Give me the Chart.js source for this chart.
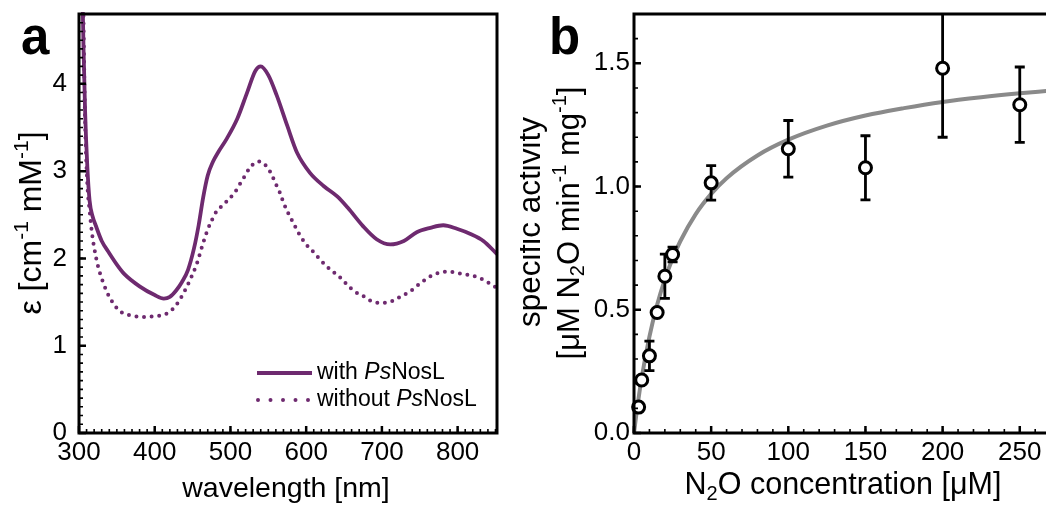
<!DOCTYPE html>
<html>
<head>
<meta charset="utf-8">
<script src="https://cdn.jsdelivr.net/npm/chart.js@4.4.1/dist/chart.umd.min.js"></script>
<style>
  body { margin: 0; background: #fff; width: 1046px; height: 511px; overflow: hidden; position: relative; }
  #chartA { position: absolute; left: 0; top: 0; }
  #chartB { position: absolute; left: 520px; top: 0; }
</style>
</head>
<body>
<canvas id="chartA" width="520" height="511"></canvas>
<canvas id="chartB" width="526" height="511"></canvas>
<script>
// ===== Data: panel a (spectra) =====
const wlWith = [304, 306, 308, 311, 314, 318, 322, 330, 340, 350, 360, 380, 400, 412, 420, 428, 436, 444, 452, 458,
  464, 470, 477, 484, 495, 509, 522, 533, 540, 550, 561, 575, 588, 605, 623, 641, 655, 675, 693, 711,
  729, 746, 764, 781, 799, 817, 834, 852];
const epsWith = [5.3, 4.4, 3.7, 3.05, 2.66, 2.48, 2.38, 2.2, 2.06, 1.93, 1.82, 1.68, 1.58, 1.54, 1.56, 1.63, 1.73, 1.87, 2.12, 2.38,
  2.7, 2.95, 3.11, 3.22, 3.37, 3.6, 3.9, 4.15, 4.2, 4.1, 3.87, 3.52, 3.21, 2.98, 2.83, 2.71, 2.58, 2.37, 2.22, 2.16,
  2.2, 2.3, 2.35, 2.38, 2.34, 2.28, 2.2, 2.05];

const wlWithout = [305, 308, 311, 314, 317, 323, 332, 342, 355, 370, 385, 401, 414, 425, 436, 447, 456, 463, 470, 475,
  481, 490, 498, 506, 513, 518, 525, 533, 538, 545, 553, 559, 565, 570, 575, 581, 587, 593, 601, 610,
  618, 627, 636, 645, 654, 664, 675, 686, 700, 713, 726, 737, 747, 763, 775, 788, 802, 815, 828, 839, 852];
const epsWithout = [5.3, 3.6, 2.85, 2.55, 2.3, 1.99, 1.72, 1.53, 1.39, 1.345, 1.33, 1.34, 1.36, 1.43, 1.57, 1.76, 1.95, 2.15, 2.33, 2.43,
  2.53, 2.61, 2.68, 2.76, 2.86, 2.93, 3.03, 3.1, 3.11, 3.08, 2.985, 2.87, 2.76, 2.64, 2.54, 2.44, 2.34, 2.245, 2.15, 2.07,
  1.99, 1.91, 1.845, 1.78, 1.7, 1.62, 1.57, 1.51, 1.49, 1.51, 1.57, 1.62, 1.69, 1.79, 1.835, 1.85, 1.83, 1.81, 1.78, 1.73, 1.66];

const xTicksA = [300, 400, 500, 600, 700, 800];
const yTicksA = [0, 1, 2, 3, 4];

// ===== Data: panel b (activity) =====
const n2oConc = [3, 5, 10, 15, 20, 25, 50, 100, 150, 200, 250];
const activity = [0.105, 0.215, 0.313, 0.489, 0.636, 0.724, 1.015, 1.153, 1.076, 1.48, 1.332];
const activityErr = [0, 0.012, 0.06, 0.008, 0.09, 0.03, 0.07, 0.115, 0.13, 0.28, 0.153];

const fitConc = [0, 2, 5, 10, 15, 20, 25, 30, 40, 50, 60, 80, 100, 125, 150, 175, 200, 225, 250, 268];
const fitActivity = [0, 0.098, 0.224, 0.391, 0.52, 0.623, 0.708, 0.778, 0.888, 0.97, 1.034, 1.126, 1.19, 1.247, 1.288, 1.318, 1.343, 1.362, 1.378, 1.388];

const xTicksB = [0, 50, 100, 150, 200, 250];
const yTicksB = [0, 0.5, 1, 1.5];

// ===== Styles =====
const FONT = '"Liberation Sans", Arial, sans-serif';
const PURPLE = '#6e2a6f';
Chart.defaults.font.family = FONT;
Chart.defaults.color = '#000';

function pairs(xs, ys) {
  return xs.map((x, i) => ({ x, y: ys[i] }));
}

// draws text runs with sup / sub / italic parts
function richText(ctx, parts, x, y, size, opts = {}) {
  ctx.save();
  ctx.translate(x, y);
  if (opts.rotate) ctx.rotate(-Math.PI / 2);
  ctx.textBaseline = 'middle';
  ctx.fillStyle = '#000';
  const fontOf = p => `${p.i ? 'italic ' : ''}${p.b ? 'bold ' : ''}${p.sup || p.sub ? Math.round(size * 0.65) : size}px ${FONT}`;
  let w = 0;
  parts.forEach(p => { ctx.font = fontOf(p); w += ctx.measureText(p.t).width; });
  let cx = opts.left ? 0 : -w / 2;
  parts.forEach(p => {
    ctx.font = fontOf(p);
    const dy = p.sup ? -size * 0.32 : p.sub ? size * 0.28 : 0;
    ctx.fillText(p.t, cx, dy);
    cx += ctx.measureText(p.t).width;
  });
  ctx.restore();
}

// ===== Frame + inward ticks =====
const framePlugin = {
  id: 'frame',
  afterDraw(chart, args, o) {
    const { ctx, chartArea: a, scales } = chart;
    const sx = scales.x, sy = scales.y;
    ctx.save();
    ctx.strokeStyle = '#000';
    ctx.lineCap = 'butt';

    ctx.lineWidth = 1.6;
    ctx.beginPath();
    for (let i = Math.ceil(sx.min / o.minorX); i * o.minorX <= sx.max + 1e-9; i++) {
      const px = sx.getPixelForValue(i * o.minorX);
      ctx.moveTo(px, a.bottom); ctx.lineTo(px, a.bottom - 4);
    }
    for (let i = Math.ceil(sy.min / o.minorY); i * o.minorY <= sy.max + 1e-9; i++) {
      const py = sy.getPixelForValue(i * o.minorY);
      ctx.moveTo(a.left, py); ctx.lineTo(a.left + 4, py);
    }
    ctx.stroke();

    ctx.lineWidth = 2.5;
    ctx.beginPath();
    sx.ticks.forEach(t => {
      const px = sx.getPixelForValue(t.value);
      ctx.moveTo(px, a.bottom); ctx.lineTo(px, a.bottom - 7);
    });
    sy.ticks.forEach(t => {
      const py = sy.getPixelForValue(t.value);
      ctx.moveTo(a.left, py); ctx.lineTo(a.left + 7, py);
    });
    ctx.stroke();

    ctx.lineWidth = 3;
    ctx.beginPath();
    if (o.right) {
      ctx.rect(a.left, a.top, a.right - a.left, a.bottom - a.top);
    } else {
      ctx.moveTo(a.right + 2, a.top); ctx.lineTo(a.left, a.top);
      ctx.lineTo(a.left, a.bottom); ctx.lineTo(a.right + 2, a.bottom);
    }
    ctx.stroke();
    ctx.restore();

    (o.texts || []).forEach(fn => fn(ctx));
  }
};

function axisScale(min, max, tickList, size, isX, pad, fmt) {
  return {
    type: 'linear', min, max,
    grid: { display: false, drawTicks: false },
    border: { display: false },
    afterBuildTicks: s => { s.ticks = tickList.map(v => ({ value: v })); },
    afterFit: s => {
      if (isX) s.height = size; else s.width = size;
      s.paddingLeft = 0; s.paddingRight = 0; s.paddingTop = 0; s.paddingBottom = 0;
    },
    ticks: { font: { size: 26 }, color: '#000', padding: pad, callback: fmt || (v => String(v)) }
  };
}

// ===== Panel a =====
new Chart(document.getElementById('chartA'), {
  type: 'scatter',
  data: {
    datasets: [
      { data: pairs(wlWith, epsWith), showLine: true, borderColor: PURPLE, borderWidth: 3.8,
        pointRadius: 0, cubicInterpolationMode: 'monotone', clip: 2 },
      { data: pairs(wlWithout, epsWithout), showLine: true, borderColor: PURPLE, borderWidth: 4,
        borderDash: [0, 7.6], borderCapStyle: 'round', pointRadius: 0, cubicInterpolationMode: 'monotone', clip: 2 }
    ]
  },
  options: {
    responsive: false, animation: false,
    layout: { autoPadding: false, padding: { top: 14, right: 23, left: 0, bottom: 0 } },
    scales: {
      x: axisScale(300, 852, xTicksA, 78, true, 4),
      y: axisScale(0, 4.8, yTicksA, 79, false, 12)
    },
    plugins: {
      legend: { display: false }, tooltip: { enabled: false },
      frame: {
        minorX: 10, minorY: 0.1, right: true,
        texts: [
          ctx => richText(ctx, [{ t: 'a', b: true }], 21, 40, 51, { left: true }),
          ctx => richText(ctx, [{ t: 'wavelength [nm]' }], 286, 489, 28.5),
          ctx => richText(ctx, [{ t: 'ε [cm' }, { t: '-1', sup: true }, { t: ' mM' }, { t: '-1', sup: true }, { t: ']' }], 32, 223, 32, { rotate: true }),
          ctx => {
            ctx.save();
            ctx.strokeStyle = PURPLE;
            ctx.lineWidth = 4;
            ctx.beginPath(); ctx.moveTo(257, 373); ctx.lineTo(312, 373); ctx.stroke();
            ctx.setLineDash([0, 12.5]); ctx.lineCap = 'round';
            ctx.beginPath(); ctx.moveTo(258, 400); ctx.lineTo(310, 400); ctx.stroke();
            ctx.restore();
            richText(ctx, [{ t: 'with ' }, { t: 'Ps', i: true }, { t: 'NosL' }], 317, 373, 23, { left: true });
            richText(ctx, [{ t: 'without ' }, { t: 'Ps', i: true }, { t: 'NosL' }], 317, 400, 23, { left: true });
          }
        ]
      }
    }
  },
  plugins: [framePlugin]
});

// ===== Panel b =====
const errorBarPlugin = {
  id: 'errbars',
  afterDatasetDraw(chart, args) {
    if (args.index !== 0) return;
    const { ctx, chartArea: a, scales } = chart;
    ctx.save();
    ctx.beginPath(); ctx.rect(a.left, a.top, a.right - a.left, a.bottom - a.top); ctx.clip();
    ctx.strokeStyle = '#000';
    ctx.lineWidth = 2.8;
    n2oConc.forEach((c, i) => {
      const e = activityErr[i];
      if (!e) return;
      const px = scales.x.getPixelForValue(c);
      const top = scales.y.getPixelForValue(activity[i] + e);
      const bot = scales.y.getPixelForValue(activity[i] - e);
      ctx.beginPath();
      ctx.moveTo(px, top); ctx.lineTo(px, bot);
      ctx.moveTo(px - 5, top); ctx.lineTo(px + 5, top);
      ctx.moveTo(px - 5, bot); ctx.lineTo(px + 5, bot);
      ctx.stroke();
    });
    ctx.restore();
  }
};

new Chart(document.getElementById('chartB'), {
  type: 'scatter',
  data: {
    datasets: [
      { data: pairs(fitConc, fitActivity), showLine: true, borderColor: '#8a8a8a', borderWidth: 4,
        pointRadius: 0, cubicInterpolationMode: 'monotone', order: 2, clip: 2 },
      { data: pairs(n2oConc, activity), showLine: false, pointRadius: 6, pointBorderWidth: 3,
        pointBackgroundColor: '#fff', pointBorderColor: '#000', order: 1, clip: false }
    ]
  },
  options: {
    responsive: false, animation: false,
    layout: { autoPadding: false, padding: { top: 14, right: 0, left: 0, bottom: 0 } },
    scales: {
      x: axisScale(0, 267, xTicksB, 78, true, 4),
      y: axisScale(0, 1.7, yTicksB, 114, false, 4, v => v.toFixed(1))
    },
    plugins: {
      legend: { display: false }, tooltip: { enabled: false },
      frame: {
        minorX: 10, minorY: 0.1, right: false,
        texts: [
          ctx => richText(ctx, [{ t: 'b', b: true }], 29, 40, 51, { left: true }),
          ctx => richText(ctx, [{ t: 'N' }, { t: '2', sub: true }, { t: 'O concentration [μM]' }], 323, 486, 30.5),
          ctx => richText(ctx, [{ t: 'specific activity' }], 11, 222, 31.5, { rotate: true }),
          ctx => richText(ctx, [{ t: '[μM N' }, { t: '2', sub: true }, { t: 'O min' }, { t: '-1', sup: true }, { t: ' mg' }, { t: '-1', sup: true }, { t: ']' }], 50, 223, 31, { rotate: true })
        ]
      }
    }
  },
  plugins: [framePlugin, errorBarPlugin]
});
</script>
</body>
</html>
